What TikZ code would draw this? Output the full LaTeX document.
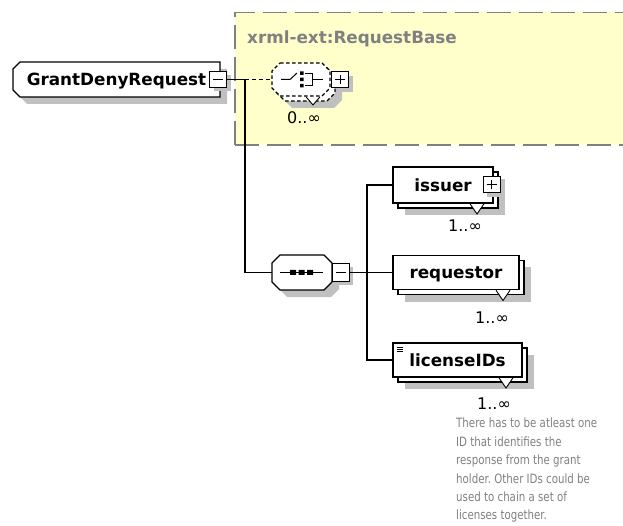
\documentclass[tikz,border=0pt]{standalone}
\usepackage{fontspec}
\newfontfamily\labelfont{DejaVu Sans}
\newfontfamily\notefont[FakeStretch=0.8]{DejaVu Sans}
\usetikzlibrary{shadows}
\definecolor{baseyellow}{RGB}{255,255,204}
\definecolor{framegray}{RGB}{128,128,128}
\definecolor{shadowgray}{RGB}{192,192,192}
\definecolor{notegray}{RGB}{128,128,128}
\pgfdeclarelayer{shade}
\pgfdeclarelayer{outline}
\pgfsetlayers{shade,outline,main}
\frenchspacing
\newcommand\elemfont{\labelfont\bfseries\fontsize{16.8}{20}\selectfont}
\newcommand\multfont{\labelfont\fontsize{16}{18}\selectfont}
% element box with its two left corners cut
\newcommand\leftcutbox[4]{(#1+7,#2) -- (#3,#2) -- (#3,#4) -- (#1+7,#4) -- (#1,#4-7) -- (#1,#2+7) -- cycle}
% compositor octagon
\newcommand\octobox[4]{(#1+8,#2) -- (#3-8,#2) -- (#3,#2+8) -- (#3,#4-8) -- (#3-8,#4) -- (#1+8,#4) -- (#1,#4-8) -- (#1,#2+8) -- cycle}
% element that may occur several times: shadow, second copy, marker, front box
\newcommand\stackedbox[4]{%
  \begin{pgfonlayer}{shade}
    \fill[shadowgray] (#1+12,#2+12) rectangle (#3+12,#4+12);
  \end{pgfonlayer}
  \begin{pgfonlayer}{outline}
    \filldraw[boxline, fill=white] (#1+5,#2+5) rectangle (#3+5,#4+5);
    \fill[white] (#3-23,#4+0.8) -- (#3-9,#4+0.8) -- (#3-16,#4+11) -- cycle;
    \draw[line width=0.9pt] (#3-23,#4+0.8) -- (#3-16,#4+11) -- (#3-9,#4+0.8);
    \filldraw[boxline, fill=white] (#1,#2) rectangle (#3,#4);
  \end{pgfonlayer}}

\begin{document}
\begin{tikzpicture}[x=1pt, y=-1pt,
  boxline/.style={draw=black, line width=1.3pt},
  wire/.style={draw=black, line width=1.1pt},
  optwire/.style={wire, dash pattern=on 4pt off 3pt},
  elemnode/.style={inner sep=0pt, font=\elemfont, text height=12.1pt, text depth=0pt},
  compnode/.style={inner sep=0pt},
  togglebox/.style={draw=black, line width=1pt, fill=white, minimum width=17pt,
    minimum height=16pt, inner sep=0pt,
    drop shadow={shadow xshift=4pt, shadow yshift=-4pt, fill=shadowgray, opacity=1}},
  collapsebox/.style={togglebox, path picture={\draw[line width=1pt]
    ([xshift=3.5pt]path picture bounding box.west) -- ([xshift=-3.5pt]path picture bounding box.east);}},
  expandbox/.style={togglebox, path picture={\draw[line width=1pt]
    ([xshift=3.5pt]path picture bounding box.west) -- ([xshift=-3.5pt]path picture bounding box.east)
    ([yshift=3.5pt]path picture bounding box.south) -- ([yshift=-3.5pt]path picture bounding box.north);}},
  multnode/.style={anchor=base west, inner sep=0pt, font=\multfont},
]
\useasboundingbox (0,0) rectangle (623,526);

% base type region
\begin{pgfonlayer}{shade}
  \fill[baseyellow] (235,12.5) rectangle (640,145);
  \draw[framegray, line width=1.5pt, dash pattern=on 24pt off 8pt]
    (235,145) -- (235,12.5) -- (640,12.5);
  \draw[framegray, line width=1.5pt, dash pattern=on 24pt off 8pt]
    (235,145) -- (640,145);
\end{pgfonlayer}
\node[anchor=base west, inner sep=0pt, font=\elemfont, text=framegray] (basename)
  at (247,44) {xrml-ext:RequestBase};

% GrantDenyRequest
\begin{pgfonlayer}{shade}
  \fill[shadowgray, shift={(7,7)}] \leftcutbox{13}{62}{220}{97};
\end{pgfonlayer}
\begin{pgfonlayer}{outline}
  \filldraw[boxline, fill=white] \leftcutbox{13}{62}{220}{97};
\end{pgfonlayer}
\node[elemnode, minimum width=207pt, minimum height=35pt] (gdr) at (116.5,79.5)
  {GrantDenyRequest\hspace{13pt}};
\node[collapsebox] (gdrtoggle) at (218,79.5) {};

% optional choice from the base type
\begin{pgfonlayer}{shade}
  \fill[shadowgray] \octobox{284}{75}{342}{108};
\end{pgfonlayer}
\begin{pgfonlayer}{outline}
  \filldraw[fill=white, draw=black, line width=1.2pt, dash pattern=on 3.5pt off 2.5pt]
    \octobox{277}{68}{335}{101};
  \fill[white] (306,96.8) -- (320,96.8) -- (313,105) -- cycle;
  \draw[line width=0.9pt] (306,96.8) -- (313,105) -- (320,96.8);
  \filldraw[fill=white, draw=black, line width=1.2pt, dash pattern=on 3.5pt off 2.5pt]
    \octobox{272}{63}{330}{96};
\end{pgfonlayer}
\node[compnode, minimum width=58pt, minimum height=33pt] (choice) at (301,79.5) {};
\draw[line width=1pt] (281,79.5) -- (290,79.5) -- (297,73);
\fill (300,71.5) rectangle (303.5,75) (300,77.7) rectangle (303.5,81.2) (300,83.8) rectangle (303.5,87.3);
\draw[line width=1pt] (305,73.5) -- (312,73.5) -- (312,85.5) -- (305,85.5) (312,79.5) -- (323,79.5);
\node[expandbox] (choicetoggle) at (340,80) {};
\node[multnode] (choicemult) at (287,124) {0..∞};

% sequence of the own content
\begin{pgfonlayer}{shade}
  \fill[shadowgray, shift={(7,7)}] \octobox{272}{255}{332}{290};
\end{pgfonlayer}
\begin{pgfonlayer}{outline}
  \filldraw[boxline, fill=white] \octobox{272}{255}{332}{290};
\end{pgfonlayer}
\node[compnode, minimum width=60pt, minimum height=35pt] (seq) at (302,272.5) {};
\draw[line width=1pt] (280,272.5) -- (323,272.5);
\fill (290,270) rectangle (296,275) (298.5,270) rectangle (304.5,275) (307,270) rectangle (313,275);
\node[collapsebox, minimum height=18pt] (seqtoggle) at (340.5,272.5) {};

% child elements
\stackedbox{393}{167}{493}{203}
\node[elemnode, minimum width=100pt, minimum height=36pt] (issuer) at (443,185) {issuer\hspace{6pt}};
\node[expandbox] (issuertoggle) at (491.5,185) {};
\node[multnode] (issuermult) at (448,232) {1..∞};

\stackedbox{393}{255.5}{519}{289.5}
\node[elemnode, minimum width=126pt, minimum height=34pt] (requestor) at (456,272.5) {requestor};
\node[multnode] (requestormult) at (475,323) {1..∞};

\stackedbox{393}{343}{522}{377}
\node[elemnode, minimum width=129pt, minimum height=34pt] (licenseIDs) at (457.5,360) {licenseIDs};
\draw[line width=0.8pt] (396.5,347) -- (403,347) (396.5,349.3) -- (403,349.3) (396.5,351.6) -- (403,351.6);
\node[multnode] (licensemult) at (477,409) {1..∞};

\node[anchor=north west, inner sep=0pt, align=left, text=notegray,
  font=\notefont\fontsize{12.8}{18.4}\selectfont] (note) at (456,418)
  {There has to be atleast one\\ID that identifies the\\response from the grant\\holder. Other IDs could be\\used to chain a set of\\licenses together.};

% connectors
\coordinate (split) at (245,79.5);
\coordinate (seqsplit) at (367,272.5);
\draw[wire] (gdrtoggle.east) -- (split);
\draw[optwire] (split) -- (choice.west);
\draw[wire] (split) |- (seq.west);
\draw[wire] (seqtoggle.east) -- (seqsplit);
\draw[wire] (issuer.west) -| (seqsplit) |- (licenseIDs.west);
\draw[wire] (seqsplit) -- (requestor.west);
\end{tikzpicture}
\end{document}
